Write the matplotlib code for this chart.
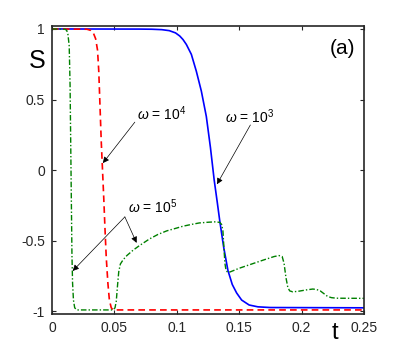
import matplotlib
matplotlib.use("Agg")
import matplotlib.pyplot as plt

plt.rcParams['font.family'] = ['Liberation Sans', 'DejaVu Sans']
plt.rcParams['mathtext.fontset'] = 'custom'
plt.rcParams['mathtext.rm'] = 'Liberation Sans'
plt.rcParams['mathtext.it'] = 'Liberation Sans:italic'

# omega = 1e3 (blue solid)
t_w3 = [0, 0.07, 0.08, 0.088, 0.094, 0.099, 0.1024, 0.105, 0.1077, 0.1117,
        0.1157, 0.1197, 0.1237, 0.127, 0.130, 0.1325, 0.1344, 0.1375, 0.141,
        0.1445, 0.148, 0.152, 0.158, 0.165, 0.175, 0.25]
s_w3 = [1, 0.999, 0.998, 0.995, 0.988, 0.972, 0.95, 0.925, 0.89, 0.82,
        0.70, 0.56, 0.38, 0.16, -0.07, -0.23, -0.355, -0.54, -0.71,
        -0.81, -0.87, -0.92, -0.955, -0.968, -0.973, -0.975]

# omega = 1e4 (red dashed)
t_w4 = [0, 0.028, 0.031, 0.033, 0.035, 0.0365, 0.0375, 0.0385, 0.0395, 0.0405,
        0.0415, 0.0425, 0.0435, 0.0448, 0.046, 0.0475, 0.049, 0.25]
s_w4 = [1, 0.998, 0.99, 0.975, 0.93, 0.85, 0.7, 0.45, 0.2, 0.0,
        -0.2, -0.42, -0.62, -0.8, -0.92, -0.975, -0.99, -0.99]

# omega = 1e5 (green dash-dot)
t_w5 = [0, 0.0105, 0.0118, 0.0128, 0.0138, 0.0145, 0.015, 0.0155, 0.016, 0.0165,
        0.0172, 0.0182, 0.02, 0.049, 0.0505, 0.0515, 0.0525, 0.0535, 0.0548,
        0.057, 0.06, 0.065, 0.07, 0.078, 0.085, 0.092, 0.1, 0.105, 0.112,
        0.118, 0.125, 0.131, 0.1345, 0.136, 0.137, 0.1378, 0.1386, 0.1395,
        0.141, 0.143, 0.15, 0.16, 0.17, 0.178, 0.182, 0.1845, 0.186, 0.1875,
        0.189, 0.1905, 0.193, 0.198, 0.204, 0.209, 0.212, 0.215, 0.218, 0.221,
        0.224, 0.228, 0.25]
s_w5 = [1, 0.998, 0.99, 0.96, 0.88, 0.6, 0.2, -0.2, -0.6, -0.8,
        -0.92, -0.975, -0.99, -0.99, -0.975, -0.93, -0.82, -0.72, -0.665,
        -0.635, -0.605, -0.567, -0.535, -0.488, -0.455, -0.43, -0.41, -0.397, -0.384,
        -0.374, -0.369, -0.366, -0.37, -0.385, -0.43, -0.55, -0.66, -0.71,
        -0.725, -0.72, -0.695, -0.665, -0.635, -0.612, -0.605, -0.612, -0.66, -0.76,
        -0.83, -0.855, -0.862, -0.857, -0.848, -0.842, -0.845, -0.855, -0.875, -0.895,
        -0.903, -0.907, -0.908]

x_ticks = [0, 0.05, 0.1, 0.15, 0.2, 0.25]
x_labels = ['0', '0.05', '0.1', '0.15', '0.2', '0.25']
y_ticks = [-1, -0.5, 0, 0.5, 1]
y_labels = ['-1', '-0.5', '0', '0.5', '1']

fig = plt.figure(figsize=(4.03, 3.53), dpi=100)
ax = fig.add_axes([0.129, 0.110, 0.774, 0.816])

ax.plot(t_w3, s_w3, '-', color=(0, 0, 1), lw=1.2)
ax.plot(t_w4, s_w4, '--', color=(1, 0, 0), lw=1.2, dashes=(4, 2.5))
ax.plot(t_w5, s_w5, '-.', color=(0, 0.5, 0), lw=1.0, dashes=(4, 1.5, 1, 1.5))

ax.set_xlim(0, 0.25)
ax.set_ylim(-1.02, 1.02)
ax.set_xticks(x_ticks)
ax.set_xticklabels(x_labels)
ax.set_yticks(y_ticks)
ax.set_yticklabels(y_labels)
ax.tick_params(direction='in', top=True, right=True, length=3, width=0.8,
               labelsize=10, colors='#262626', pad=5)
for sp in ax.spines.values():
    sp.set_linewidth(1.2)
    sp.set_color('#262626')

ax.text(-0.012, 0.77, 'S', fontsize=18, ha='center', va='center')
ax.text(0.2264, -1.156, 't', fontsize=17, ha='center', va='center')
ax.text(0.243, 0.86, '(a)', fontsize=15, ha='right', va='center')

arrow = dict(arrowstyle='-|>', color='black', lw=0.5,
             mutation_scale=9, shrinkA=0, shrinkB=0)
ax.annotate('', xy=(0.0408, 0.05), xytext=(0.0664, 0.34), arrowprops=arrow)
ax.text(0.068, 0.40, r'$\omega$ = 10$^4$', fontsize=10, va='center')

ax.annotate('', xy=(0.1322, -0.10), xytext=(0.159, 0.32), arrowprops=arrow)
ax.text(0.1384, 0.376, r'$\omega$ = 10$^3$', fontsize=10, va='center')

ax.annotate('', xy=(0.0166, -0.714), xytext=(0.0584, -0.331), arrowprops=arrow)
ax.annotate('', xy=(0.0678, -0.515), xytext=(0.0584, -0.331), arrowprops=arrow)
ax.text(0.0608, -0.26, r'$\omega$ = 10$^5$', fontsize=10, va='center')

fig.savefig('out.png', dpi=100)
